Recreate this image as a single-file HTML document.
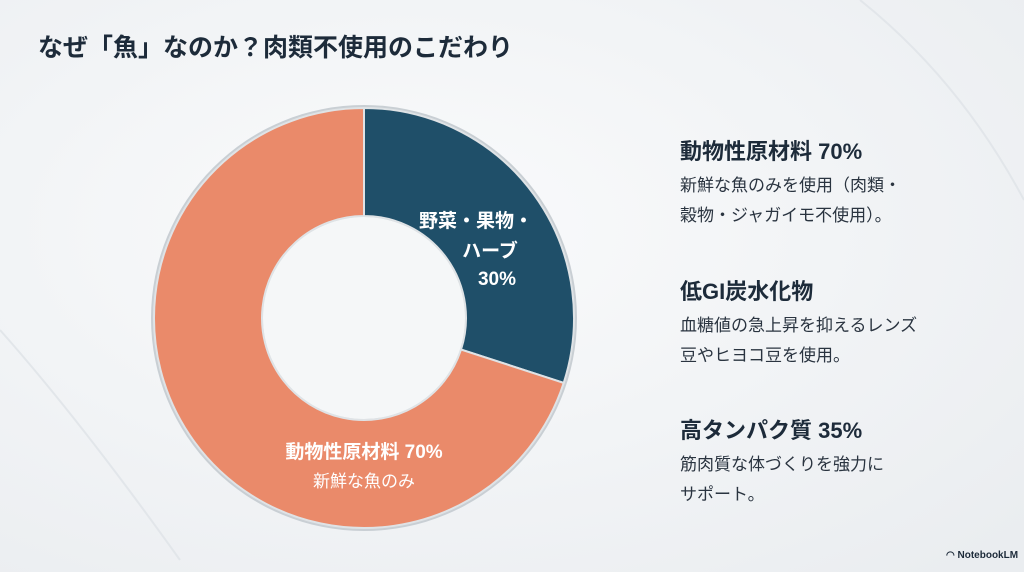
<!DOCTYPE html>
<html><head><meta charset="utf-8"><style>
body{margin:0;width:1024px;height:572px;overflow:hidden;background:#f3f5f7;font-family:"Liberation Sans","Noto Sans CJK JP",sans-serif;position:relative}
.t{position:absolute;color:#1d2b3a}
h1{position:absolute;left:38px;top:28px;margin:0;font-size:25px;font-weight:700;color:#1d2b3a}
.h{font-size:22px;font-weight:700;left:680px}
.b{font-size:17px;left:680px;line-height:30px;color:#2a3440}
</style></head><body>
<svg width="1024" height="572" style="position:absolute;left:0;top:0">
<radialGradient id="bg" cx="0.4" cy="0.4" r="0.8"><stop offset="0" stop-color="#fafbfc"/><stop offset="1" stop-color="#eaedf0"/></radialGradient>
<rect width="1024" height="572" fill="url(#bg)"/>
<path d="M0 330 Q80 420 180 560" stroke="#e2e6ea" stroke-width="2" fill="none"/>
<path d="M860 0 Q960 80 1024 200" stroke="#e2e6ea" stroke-width="2" fill="none"/>
</svg>
<h1>なぜ「魚」なのか？肉類不使用のこだわり</h1>
<svg id="chart" width="1024" height="572" style="position:absolute;left:0;top:0"></svg>
<div class="t h" style="top:134px">動物性原材料 70%</div>
<div class="t b" style="top:171px">新鮮な魚のみを使用（肉類・<br>穀物・ジャガイモ不使用）。</div>
<div class="t h" style="top:274px">低GI炭水化物</div>
<div class="t b" style="top:311px">血糖値の急上昇を抑えるレンズ<br>豆やヒヨコ豆を使用。</div>
<div class="t h" style="top:413px">高タンパク質 35%</div>
<div class="t b" style="top:450px">筋肉質な体づくりを強力に<br>サポート。</div>
<div class="t" style="left:946px;top:550px;font-size:10px;font-weight:700">◠ NotebookLM</div>
<script>
const categories=["野菜・果物・ハーブ","動物性原材料"];
const values=[30,70];
const colors=["#1f4f69","#ea8a6a"];
const svg=document.getElementById('chart');
const NS="http://www.w3.org/2000/svg";
const cx=364,cy=318,R=210,r=102;
const total=values.reduce((a,b)=>a+b,0);
function pt(a,rad){return [cx+rad*Math.sin(a),cy-rad*Math.cos(a)];}
let ring=document.createElementNS(NS,'circle');
ring.setAttribute('cx',cx);ring.setAttribute('cy',cy);ring.setAttribute('r',R+3);ring.setAttribute('fill','#c9cfd4');


svg.appendChild(ring);
let a0=0;
values.forEach((v,i)=>{
 const a1=a0+v/total*2*Math.PI;const lg=(a1-a0)>Math.PI?1:0;
 const p1=pt(a0,R),p2=pt(a1,R),p3=pt(a1,r),p4=pt(a0,r);
 const p=document.createElementNS(NS,'path');
 p.setAttribute('d',`M${p1} A${R} ${R} 0 ${lg} 1 ${p2} L${p3} A${r} ${r} 0 ${lg} 0 ${p4}Z`);
 p.setAttribute('fill',colors[i]);p.setAttribute('stroke','#dfe3e6');p.setAttribute('stroke-width','2');
 
 
 svg.appendChild(p);a0=a1;
});
let hole=document.createElementNS(NS,'circle');
hole.setAttribute('cx',cx);hole.setAttribute('cy',cy);hole.setAttribute('r',r-1);hole.setAttribute('fill','#f5f7f8');


svg.appendChild(hole);
function txt(x,y,s,sz,w,c,name){const t=document.createElementNS(NS,'text');t.setAttribute('x',x);t.setAttribute('y',y);t.setAttribute('text-anchor','middle');t.setAttribute('font-size',sz);t.setAttribute('font-weight',w);t.setAttribute('fill',c);t.textContent=s;


svg.appendChild(t);}
txt(476,227,"野菜・果物・",19,700,"#fff","label-veg-line1");
txt(490,257,"ハーブ",19,700,"#fff","label-veg-line2");
txt(497,285,values[0]+"%",19,700,"#fff","label-veg-value");
txt(364,458,"動物性原材料 "+values[1]+"%",19,700,"#fff","label-animal");
txt(364,487,"新鮮な魚のみ",17,400,"#fff","label-animal-sub");
</script>
</body></html>
